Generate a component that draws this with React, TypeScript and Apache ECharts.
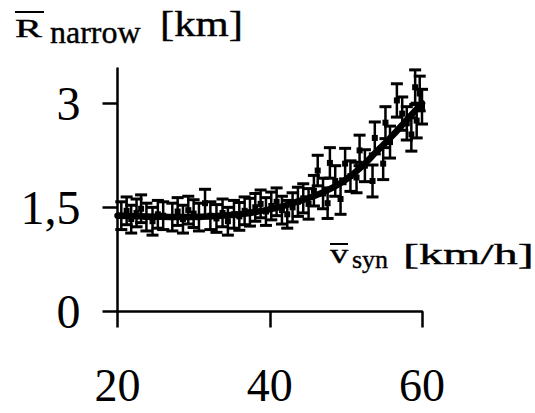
import React, { useEffect, useRef } from "react";
import * as echarts from "echarts";

// Measured mean radius per synchronised speed, with its spread
const speeds = [
  20.5, 21.2, 21.8, 22.5, 23.1, 23.8, 24.6, 25.3, 26.0, 27.2, 27.9, 28.6, 29.3, 30.0,
  30.7, 31.5, 32.2, 33.0, 33.8, 34.5, 35.3, 36.0, 36.7, 37.4, 38.1, 38.8, 39.5, 40.2,
  40.9, 41.6, 42.3, 43.0, 43.7, 44.4, 45.1, 45.8, 46.3, 47.0, 47.6, 47.9, 48.6, 49.3,
  49.9, 50.6, 51.4, 51.8, 52.5, 53.5, 53.8, 54.9, 55.2, 55.8, 56.7, 57.4, 58.0, 58.6,
  59.1, 59.3, 59.7, 60.0,
];
const radii = [
  1.38, 1.45, 1.33, 1.42, 1.48, 1.36, 1.30, 1.40, 1.38, 1.36, 1.44, 1.33, 1.46, 1.41,
  1.36, 1.56, 1.38, 1.34, 1.42, 1.30, 1.40, 1.37, 1.45, 1.43, 1.50, 1.55, 1.44, 1.52,
  1.58, 1.46, 1.40, 1.50, 1.58, 1.63, 1.55, 1.74, 2.03, 1.70, 1.56, 2.14, 1.88, 1.62,
  2.13, 1.95, 1.93, 2.32, 2.10, 1.88, 2.50, 2.13, 2.72, 2.44, 3.04, 2.85, 2.71, 2.55,
  3.23, 2.75, 3.14, 2.95,
];
const spreads = [
  0.2, 0.2, 0.2, 0.2, 0.2, 0.2, 0.2, 0.2, 0.2, 0.2, 0.2, 0.2, 0.2, 0.2,
  0.2, 0.2, 0.2, 0.2, 0.2, 0.2, 0.2, 0.2, 0.2, 0.2, 0.2, 0.2, 0.2, 0.2,
  0.2, 0.2, 0.2, 0.21, 0.21, 0.21, 0.22, 0.22, 0.22, 0.22, 0.22, 0.22, 0.22, 0.22,
  0.22, 0.22, 0.22, 0.22, 0.23, 0.23, 0.23, 0.23, 0.23, 0.23, 0.24, 0.24, 0.24, 0.24,
  0.25, 0.25, 0.25, 0.25,
];

// Fitted trend
const fitSpeeds = [20, 24, 28, 32, 36, 40, 43, 46, 48, 50, 52, 54, 56, 58, 60];
const fitRadii = [1.38, 1.37, 1.36, 1.37, 1.4, 1.47, 1.56, 1.67, 1.77, 1.9, 2.08, 2.3, 2.52, 2.76, 3.0];

const radiusTicks = [0, 1.5, 3];
const speedTicks = [20, 40, 60];

const SERIF = '"Liberation Serif", "Times New Roman", serif';

export default function App() {
  const ref = useRef<HTMLDivElement>(null);

  useEffect(() => {
    if (!ref.current) return;
    const chart = echarts.init(ref.current, null, { renderer: "svg" });

    const points = speeds.map((s, i) => [s, radii[i], spreads[i]]);
    const fit = fitSpeeds.map((s, i) => [s, fitRadii[i]]);

    const txt = (
      text: string,
      x: number,
      y: number,
      size: number,
      scaleX = 1
    ) => ({
      type: "text",
      x,
      y,
      scaleX,
      style: {
        text,
        fill: "#000",
        stroke: "#000",
        lineWidth: 0.4,
        font: `${size}px ${SERIF}`,
        align: "left",
        verticalAlign: "middle",
      },
    });
    const bar = (x1: number, x2: number, y: number) => ({
      type: "line",
      shape: { x1, y1: y, x2, y2: y },
      style: { stroke: "#000", lineWidth: 2 },
    });

    chart.setOption({
      animation: false,
      backgroundColor: "#fff",
      grid: { left: 117.5, right: 113, top: 68.5, bottom: 101.5 },
      xAxis: {
        type: "value",
        min: 20,
        max: 60,
        interval: 20,
        splitLine: { show: false },
        axisLine: { lineStyle: { color: "#000", width: 2.5 } },
        axisTick: { length: 16, lineStyle: { color: "#000", width: 2.5 } },
        axisLabel: {
          margin: 56,
          color: "#000",
          fontFamily: SERIF,
          fontSize: 46,
          lineHeight: 36,
          customValues: speedTicks,
        },
      },
      yAxis: {
        type: "value",
        min: 0,
        max: 3.5,
        interval: 1.5,
        splitLine: { show: false },
        axisLine: { lineStyle: { color: "#000", width: 2.5 } },
        axisTick: {
          length: 15,
          lineStyle: { color: "#000", width: 2.5 },
          customValues: radiusTicks,
        },
        axisLabel: {
          margin: 37,
          color: "#000",
          fontFamily: SERIF,
          fontSize: 48,
          customValues: radiusTicks,
          formatter: (v: number) => String(v).replace(".", ","),
        },
      },
      graphic: [
        // axis title of the radius axis
        bar(15, 44, 12),
        txt("R", 15, 28, 26, 1.55),
        txt("narrow", 50, 32, 32),
        txt("[km]", 160, 24, 35, 1.22),
        // axis title of the speed axis
        bar(330, 348, 244),
        txt("v", 330, 254, 28, 1.3),
        txt("syn", 352, 259, 26),
        txt("[km/h]", 403, 254, 30, 1.6),
      ],
      series: [
        {
          type: "custom",
          data: points,
          renderItem: (_p: any, api: any) => {
            const x = api.value(0);
            const y = api.value(1);
            const e = api.value(2);
            const top = api.coord([x, y + e]);
            const bot = api.coord([x, y - e]);
            const mid = api.coord([x, y]);
            const hw = 6;
            const s = { stroke: "#000", lineWidth: 2.5 };
            return {
              type: "group",
              children: [
                { type: "line", shape: { x1: top[0], y1: top[1], x2: bot[0], y2: bot[1] }, style: s },
                { type: "line", shape: { x1: top[0] - hw, y1: top[1], x2: top[0] + hw, y2: top[1] }, style: { ...s, lineWidth: 3 } },
                { type: "line", shape: { x1: bot[0] - hw, y1: bot[1], x2: bot[0] + hw, y2: bot[1] }, style: { ...s, lineWidth: 3 } },
                { type: "rect", shape: { x: mid[0] - 3, y: mid[1] - 3, width: 6, height: 6 }, style: { fill: "#000" } },
              ],
            };
          },
          z: 2,
        },
        {
          type: "line",
          data: fit,
          smooth: 0.5,
          symbol: "none",
          lineStyle: { color: "#000", width: 6.5, cap: "round" },
          z: 3,
        },
      ],
    });

    return () => chart.dispose();
  }, []);

  return (
    <div
      ref={ref}
      style={{ position: "fixed", left: 0, top: 0, width: 535, height: 413, background: "#fff" }}
    />
  );
}
